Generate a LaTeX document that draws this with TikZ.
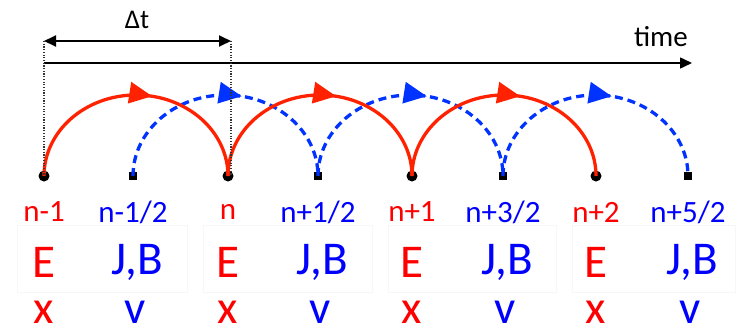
\documentclass[tikz,border=0pt]{standalone}
\usepackage{fontspec}
\setmainfont{Carlito}
\usetikzlibrary{arrows.meta,decorations.markings}
\definecolor{arcred}{RGB}{255,34,0}
\definecolor{txtred}{RGB}{255,0,0}
\definecolor{arcblue}{RGB}{0,51,255}
\definecolor{txtblue}{RGB}{0,0,255}
\begin{document}
\begin{tikzpicture}[x=1pt,y=1pt,
  dotc/.style={circle,fill=black,inner sep=0pt,minimum size=11pt},
  dotsq/.style={rectangle,fill=black,inner sep=0pt,minimum size=8.5pt},
  redarc/.style={draw=arcred,line width=3.3pt,postaction={decorate},
    decoration={markings,mark=at position 0.56 with {\arrow[arcred]{Triangle[length=23pt,width=21pt]}}}},
  bluearc/.style={draw=arcblue,line width=3.3pt,dash pattern=on 8pt off 5pt,postaction={decorate},
    decoration={markings,mark=at position 0.56 with {\arrow[arcblue]{Triangle[length=23pt,width=21pt]}}}},
  lblred/.style={text=txtred,font=\fontsize{31}{34}\selectfont,inner sep=0pt},
  lblblue/.style={text=txtblue,font=\fontsize{31}{34}\selectfont,inner sep=0pt},
  bigred/.style={text=txtred,font=\fontsize{47}{50}\selectfont,inner sep=0pt},
  bigblue/.style={text=txtblue,font=\fontsize{47}{50}\selectfont,inner sep=0pt},
  faintbox/.style={draw=black!3,line width=0.8pt},
  guide/.style={draw=black!80,line width=1.2pt,dash pattern=on 1.2pt off 1.5pt},
]
\useasboundingbox (0,0) rectangle (742,-335);
\fill[white] (0,0) rectangle (742,-335);

% faint boxes
\draw[faintbox] (17,-225) rectangle (187,-292);
\draw[faintbox] (203,-225) rectangle (372,-292);
\draw[faintbox] (388,-225) rectangle (556,-292);
\draw[faintbox] (572,-225) rectangle (735,-292);

% grid points
\node[dotc]  (p0) at (44,-176) {};
\node[dotsq] (q0) at (133,-176) {};
\node[dotc]  (p1) at (228,-176) {};
\node[dotsq] (q1) at (318,-176) {};
\node[dotc]  (p2) at (412,-176) {};
\node[dotsq] (q2) at (503,-176) {};
\node[dotc]  (p3) at (596,-176) {};
\node[dotsq] (q3) at (688,-176) {};

% arcs
\path[bluearc] (q0.center) arc[start angle=180,end angle=0,x radius=92.5,y radius=81];
\path[bluearc] (q1.center) arc[start angle=180,end angle=0,x radius=92.5,y radius=81];
\path[bluearc] (q2.center) arc[start angle=180,end angle=0,x radius=92.5,y radius=81];
\path[redarc] (p0.center) arc[start angle=180,end angle=0,x radius=92,y radius=81];
\path[redarc] (p1.center) arc[start angle=180,end angle=0,x radius=92,y radius=81];
\path[redarc] (p2.center) arc[start angle=180,end angle=0,x radius=92,y radius=81];

% time axis
\coordinate (ta) at (44,-63);
\coordinate (tb) at (692,-63);
\draw[line width=1.5pt,-{Triangle[length=12pt,width=11pt]}] (ta) -- (tb);
\node[anchor=south east,inner sep=0pt,font=\fontsize{29}{31}\selectfont] (time) at (688,-47) {time};

% delta t
\coordinate (da) at (44,-41);
\coordinate (db) at (231,-41);
\coordinate (dbb) at (231,-176);
\draw[line width=1.8pt,{Triangle[length=12pt,width=11pt]}-{Triangle[length=12pt,width=11pt]}] (da) -- (db);
\node[inner sep=0pt,font=\fontsize{27}{29}\selectfont] (dt) at (137,-20) {Δt};
\draw[guide] (da) -- (p0.center);
\draw[guide] (db) -- (dbb);

% labels
\node[lblred]  (l0) at (44,-212) {n-1};
\node[lblblue] (l1) at (133,-212) {n-1/2};
\node[lblred]  (l2) at (228,-212) {n};
\node[lblblue] (l3) at (318,-212) {n+1/2};
\node[lblred]  (l4) at (412,-212) {n+1};
\node[lblblue] (l5) at (503,-212) {n+3/2};
\node[lblred]  (l6) at (596,-212) {n+2};
\node[lblblue] (l7) at (688,-212) {n+5/2};

\node[bigred]  (e0) at (44,-262) {E};
\node[bigblue] (b0) at (137,-262) {J,B};
\node[bigred]  (e1) at (228,-262) {E};
\node[bigblue] (b1) at (322,-262) {J,B};
\node[bigred]  (e2) at (412,-262) {E};
\node[bigblue] (b2) at (507,-262) {J,B};
\node[bigred]  (e3) at (596,-262) {E};
\node[bigblue] (b3) at (692,-262) {J,B};

\node[bigred]  (x0) at (44,-312) {x};
\node[bigblue] (v0) at (135,-312) {v};
\node[bigred]  (x1) at (228,-312) {x};
\node[bigblue] (v1) at (320,-312) {v};
\node[bigred]  (x2) at (412,-312) {x};
\node[bigblue] (v2) at (505,-312) {v};
\node[bigred]  (x3) at (596,-312) {x};
\node[bigblue] (v3) at (690,-312) {v};
\end{tikzpicture}
\end{document}
